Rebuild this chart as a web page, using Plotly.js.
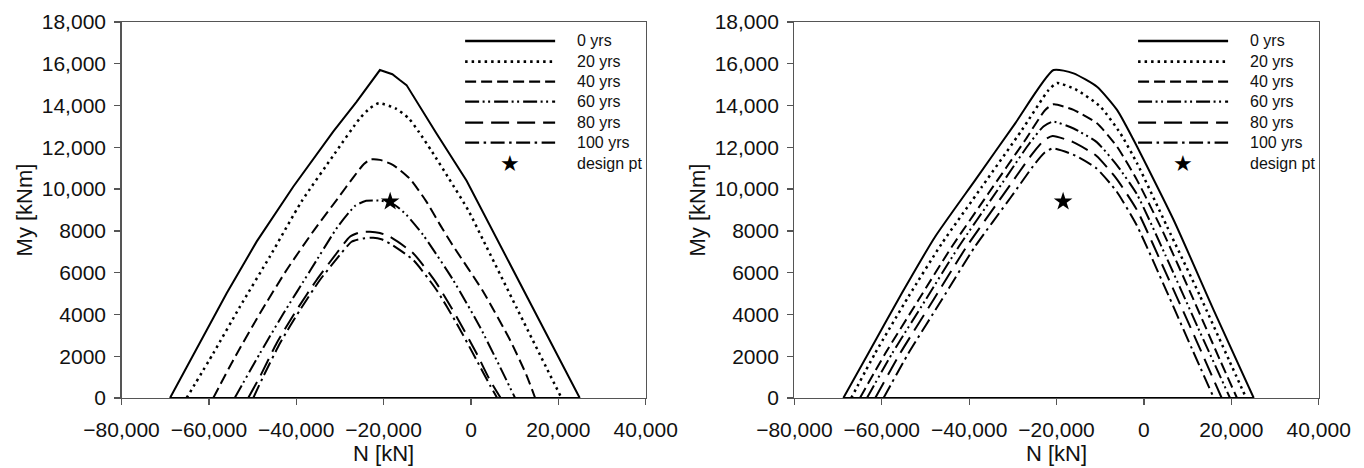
<!DOCTYPE html>
<html>
<head>
<meta charset="utf-8">
<script src="https://cdn.plot.ly/plotly-3.0.1.min.js"></script>
<style>
  html, body { margin: 0; padding: 0; background: #ffffff; }
  #chart { width: 1364px; height: 468px; }
</style>
</head>
<body>
<div id="chart"></div>
<script>
// ---------------- data (N [kN], My [kNm]); each curve closes along My = 0 ----------------
const yearLabels = ['0 yrs', '20 yrs', '40 yrs', '60 yrs', '80 yrs', '100 yrs'];
const designLabel = 'design pt';

// Left panel
const nLeft0 = [-68900, -62040, -55930, -49070, -40690, -31540, -26200, -20850, -18000, -16300, -14750, -8000, -1000, 24900, -68900];
const mLeft0 = [0, 2618, 5012, 7485, 10115, 12750, 14180, 15700, 15500, 15220, 14980, 12700, 10400, 0, 0];
const nLeft20 = [-65100, -58990, -52890, -46020, -38800, -31200, -25430, -23140, -21110, -17310, -14250, -11960, -8910, -5090, -520, 2790, 10500, 20720, -65100];
const mLeft20 = [0, 2140, 4370, 6780, 9400, 11700, 13390, 13870, 14110, 13870, 13390, 12750, 11790, 10520, 8950, 7560, 4300, 0, 0];
const nLeft40 = [-59000, -54400, -48300, -42200, -35700, -30500, -26800, -24500, -23000, -20850, -17800, -14000, -10200, -7100, -4300, 2780, 9000, 12700, 14700, -59000];
const mLeft40 = [0, 1820, 4055, 6130, 8100, 9550, 10600, 11200, 11420, 11400, 11150, 10500, 9400, 8300, 7350, 5100, 2750, 1100, 0, 0];
const nLeft60 = [-54100, -48300, -42900, -36800, -30500, -26500, -24000, -20500, -17500, -14750, -10940, -4080, 2030, 6610, 10100, -54100];
const mLeft60 = [0, 2140, 4055, 6100, 8200, 9200, 9440, 9440, 9250, 8760, 7800, 5650, 3410, 1500, 0, 0];
const nLeft80 = [-51000, -48310, -44490, -39920, -35330, -30760, -27720, -25430, -23140, -20850, -18570, -13230, -7880, -3300, 1270, 4320, 6800, -51000];
const mLeft80 = [0, 1020, 2620, 4210, 5650, 6930, 7720, 7930, 7960, 7900, 7720, 6930, 5490, 3890, 2140, 860, 0, 0];
const nLeft100 = [-49840, -47560, -43730, -39160, -34580, -30000, -27330, -24670, -22390, -20500, -18570, -13230, -7880, -3300, 1270, 4320, 6000, -49840];
const mLeft100 = [0, 1020, 2620, 4210, 5650, 6850, 7480, 7640, 7670, 7600, 7400, 6610, 5170, 3580, 1820, 620, 0, 0];

// Right panel
const nRight0 = [-68800, -63070, -55420, -47790, -38620, -29460, -20690, -16100, -10740, -6160, -2360, 6800, 15960, 25130, -68800];
const mRight0 = [0, 2140, 5010, 7720, 10430, 13150, 15700, 15540, 14900, 13790, 12350, 8520, 4210, 0, 0];
const nRight20 = [-67000, -61530, -53900, -46250, -37090, -27930, -21830, -19900, -15330, -9990, -5400, -1580, 5300, 12800, 19500, 23400, -67000];
const mRight20 = [0, 2140, 4850, 7400, 10110, 12830, 14740, 15080, 14740, 13950, 12670, 11240, 8200, 4900, 1800, 0, 0];
const nRight40 = [-65000, -59180, -51610, -43970, -35580, -27170, -22590, -20690, -16100, -10740, -6160, -1580, 4520, 11390, 17400, 21300, -65000];
const mRight40 = [0, 2140, 4690, 7240, 9800, 12350, 13790, 14060, 13790, 13150, 12030, 10430, 7880, 4690, 1820, 0, 0];
const nRight60 = [-63400, -57600, -50000, -42400, -34000, -26500, -23000, -20800, -16100, -10800, -6200, -1600, 5000, 12300, 19700, -63400];
const mRight60 = [0, 2140, 4690, 7240, 9800, 12100, 13000, 13230, 12900, 12250, 11150, 9750, 6800, 3400, 0, 0];
const nRight80 = [-61500, -55800, -48200, -40600, -32300, -25500, -22800, -20900, -16200, -10900, -6300, -1600, 5000, 12000, 17800, -61500];
const mRight80 = [0, 2140, 4690, 7240, 9700, 11700, 12350, 12540, 12250, 11600, 10500, 9000, 6000, 2750, 0, 0];
const nRight100 = [-59600, -53900, -46300, -38700, -30500, -25000, -22700, -20900, -16200, -10900, -6300, -1600, 5000, 11000, 16000, -59600];
const mRight100 = [0, 2140, 4690, 7240, 9600, 11200, 11750, 11950, 11650, 11000, 9900, 8250, 5200, 2350, 0, 0];

// Design point (same in both panels)
const designN = [-18500];
const designM = [9400];

// Axis ticks
const xTickVals = [-80000, -60000, -40000, -20000, 0, 20000, 40000];
const xTickText = ['\u221280,000', '\u221260,000', '\u221240,000', '\u221220,000', '0', '20,000', '40,000'];
const yTickVals = [0, 2000, 4000, 6000, 8000, 10000, 12000, 14000, 16000, 18000];
const yTickText = ['0', '2000', '4000', '6000', '8000', '10,000', '12,000', '14,000', '16,000', '18,000'];

// ---------------- styling ----------------
const dashStyles = ['solid', '2.5px,4px', '11px,5px', '14px,3.5px,2px,3.5px,2px,4px', '18px,8px', '14px,4.5px,2.5px,4.5px'];
const lineWidths = [2, 2.5, 2, 2, 2, 2];
const ink = '#000000';
const frame = '#555555';
const fontFam = '"Liberation Sans", Arial, Helvetica, sans-serif';

const leftSeries = [[nLeft0, mLeft0], [nLeft20, mLeft20], [nLeft40, mLeft40], [nLeft60, mLeft60], [nLeft80, mLeft80], [nLeft100, mLeft100]];
const rightSeries = [[nRight0, mRight0], [nRight20, mRight20], [nRight40, mRight40], [nRight60, mRight60], [nRight80, mRight80], [nRight100, mRight100]];
// which curves are drawn smoothed (left 0 yrs has a sharp apex in the original)
const leftSmooth = [false, true, true, true, true, true];
const rightSmooth = [true, true, true, true, true, true];

const traces = [];
function addPanel(series, smooth, xa, ya) {
  series.forEach(function (s, i) {
    const n = s[0], m = s[1];
    const last = n.length - 2; // index of the right end of the envelope
    // envelope (without closing segment)
    traces.push({
      type: 'scatter', mode: 'lines', x: n.slice(0, last + 1), y: m.slice(0, last + 1),
      xaxis: xa, yaxis: ya, name: yearLabels[i], showlegend: false, hoverinfo: 'skip',
      line: { color: ink, width: lineWidths[i], dash: dashStyles[i],
              shape: smooth[i] ? 'spline' : 'linear', smoothing: 0.55 }
    });
    // closing segment along My = 0
    traces.push({
      type: 'scatter', mode: 'lines', x: [n[last], n[last + 1]], y: [m[last], m[last + 1]],
      xaxis: xa, yaxis: ya, name: yearLabels[i], showlegend: false, hoverinfo: 'skip',
      line: { color: ink, width: 2 }
    });
  });
  traces.push({
    type: 'scatter', mode: 'markers', x: designN, y: designM, xaxis: xa, yaxis: ya,
    name: designLabel, showlegend: false, cliponaxis: false,
    marker: { symbol: 'star', size: 14, color: ink, line: { width: 0 } }
  });
}
addPanel(leftSeries, leftSmooth, 'x', 'y');
addPanel(rightSeries, rightSmooth, 'x2', 'y2');

function xAxis(domain, anchor) {
  return {
    domain: domain, anchor: anchor, range: [-80000, 40000],
    tickmode: 'array', tickvals: xTickVals, ticktext: xTickText,
    ticks: 'outside', ticklen: 6, tickwidth: 1.3, tickcolor: frame, ticklabelstandoff: 6,
    showline: true, linecolor: frame, linewidth: 1.3, mirror: true,
    showgrid: false, zeroline: false, layer: 'below traces',
    tickfont: { family: fontFam, size: 21, color: '#111' },
    title: { text: 'N [kN]', font: { family: fontFam, size: 22, color: '#111' }, standoff: 6 }
  };
}
function yAxis(domain, anchor) {
  return {
    domain: domain, anchor: anchor, range: [0, 18000],
    tickmode: 'array', tickvals: yTickVals, ticktext: yTickText,
    ticks: 'outside', ticklen: 6, tickwidth: 1.3, tickcolor: frame, ticklabelstandoff: 4,
    showline: true, linecolor: frame, linewidth: 1.3, mirror: true,
    showgrid: false, zeroline: false, layer: 'below traces',
    tickfont: { family: fontFam, size: 21, color: '#111' },
    title: { text: 'My [kNm]', font: { family: fontFam, size: 22, color: '#111' }, standoff: 3 }
  };
}

// hand-drawn legends (long line samples like the original)
const legRowsY = [0.9495, 0.8944, 0.8412, 0.7880, 0.7322, 0.6790, 0.6242];
const legLineX0 = 0.6555, legLineX1 = 0.8272, legTextX = 0.866, legStarX = 0.7415;
const shapes = [];
const annotations = [];
[['x domain', 'y domain'], ['x2 domain', 'y2 domain']].forEach(function (refs) {
  yearLabels.forEach(function (lab, i) {
    shapes.push({
      type: 'line', xref: refs[0], yref: refs[1],
      x0: legLineX0, x1: legLineX1, y0: legRowsY[i], y1: legRowsY[i],
      line: { color: ink, width: lineWidths[i] + 0.3, dash: dashStyles[i] }
    });
    annotations.push({
      xref: refs[0], yref: refs[1], x: legTextX, y: legRowsY[i],
      xanchor: 'left', yanchor: 'middle', showarrow: false, text: lab,
      font: { family: fontFam, size: 16, color: '#111' }
    });
  });
  annotations.push({
    xref: refs[0], yref: refs[1], x: legStarX, y: legRowsY[6],
    xanchor: 'center', yanchor: 'middle', showarrow: false, text: '\u2605',
    font: { family: '"DejaVu Sans", sans-serif', size: 22, color: ink }
  });
  annotations.push({
    xref: refs[0], yref: refs[1], x: legTextX, y: legRowsY[6],
    xanchor: 'left', yanchor: 'middle', showarrow: false, text: designLabel,
    font: { family: fontFam, size: 16, color: '#111' }
  });
});

const layout = {
  width: 1364, height: 468,
  margin: { l: 0, r: 0, t: 22, b: 70, pad: 0 },
  paper_bgcolor: '#ffffff', plot_bgcolor: '#ffffff',
  showlegend: false,
  font: { family: fontFam, color: '#111' },
  xaxis: xAxis([0.08908, 0.47339], 'y'),
  yaxis: yAxis([0, 1], 'x'),
  xaxis2: xAxis([0.58240, 0.96679], 'y2'),
  yaxis2: yAxis([0, 1], 'x2'),
  shapes: shapes,
  annotations: annotations
};

Plotly.newPlot('chart', traces, layout, { staticPlot: true, displayModeBar: false });
</script>
</body>
</html>
